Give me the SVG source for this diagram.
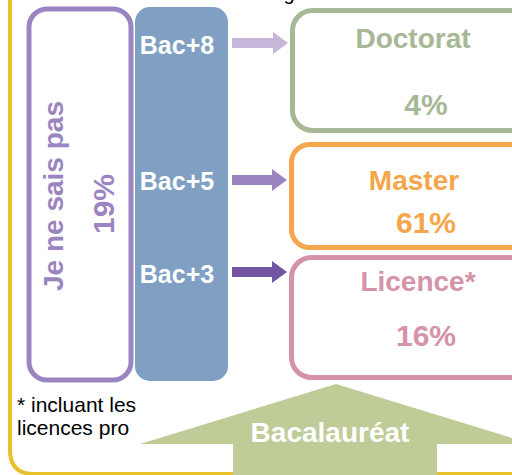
<svg xmlns="http://www.w3.org/2000/svg" width="512" height="475" viewBox="0 0 512 475">
<style>
text{font-family:"Liberation Sans",Arial,sans-serif;font-weight:bold;text-anchor:middle}
.box{fill:#fff;stroke-width:5}
.bac{fill:#fff;font-size:25px}
.pct{font-size:30px}
.note{font-weight:normal;text-anchor:start;font-size:21px;fill:#000}
</style>
<rect x="0" y="0" width="512" height="475" fill="#fff"/>
<text x="289" y="0" style="font-weight:normal;font-size:20px;fill:#000">g</text>
<g id="frame"><path d="M10,-10 V450 Q10,474 34,474 H540" fill="none" stroke="#e8c02a" stroke-width="4"/></g>
<g id="bacalaureat">
<polygon points="336,384 532,444 437,444 437,480 233,480 233,444 140,444" fill="#c0cc98"/>
<text x="330" y="442" style="fill:#fff;font-size:28px">Bacalauréat</text>
</g>
<g id="jnsp">
<rect x="29" y="9" width="102" height="371" rx="18" class="box" stroke="#9b85c1" stroke-width="4"/>
<text transform="translate(63,196) rotate(-90)" style="fill:#9b85c1;font-size:28px">Je ne sais pas</text>
<text transform="translate(114,204) rotate(-90)" style="fill:#9b85c1" class="pct">19%</text>
</g>
<g id="levels">
<rect x="135" y="7" width="93" height="374" rx="15" fill="#7f9fc3"/>
<text x="177" y="54" class="bac">Bac+8</text>
<text x="177" y="190" class="bac">Bac+5</text>
<text x="177" y="283" class="bac">Bac+3</text>
</g>
<g id="doctorat">
<rect x="292.5" y="10.5" width="260" height="120" rx="20" class="box" stroke="#a6b895"/>
<text x="413" y="48" style="fill:#a6b895;font-size:28px">Doctorat</text>
<text x="426" y="115" style="fill:#a6b895" class="pct">4%</text>
</g>
<g id="master">
<rect x="291.5" y="144.5" width="260" height="103" rx="18" class="box" stroke="#f5a54a"/>
<text x="414" y="190" style="fill:#f5a54a;font-size:28px">Master</text>
<text x="426" y="233" style="fill:#f5a54a" class="pct">61%</text>
</g>
<g id="licence">
<rect x="291.5" y="257.5" width="260" height="120" rx="20" class="box" stroke="#d593a8"/>
<text x="418" y="291" style="fill:#d593a8;font-size:28px">Licence*</text>
<text x="426" y="346" style="fill:#d593a8" class="pct">16%</text>
</g>
<g id="connectors">
<polygon points="232,38 273,38 273,32 288,43 273,54 273,48 232,48" fill="#c6b6da"/>
<polygon points="232,175 272,175 272,169 287,180 272,191 272,185 232,185" fill="#9b84c0"/>
<polygon points="232,267 272,267 272,261 287,272 272,283 272,277 232,277" fill="#7254a2"/>
</g>
<g id="footnote">
<text x="17" y="412" class="note">* incluant les</text>
<text x="17" y="435" class="note">licences pro</text>
</g>
</svg>
